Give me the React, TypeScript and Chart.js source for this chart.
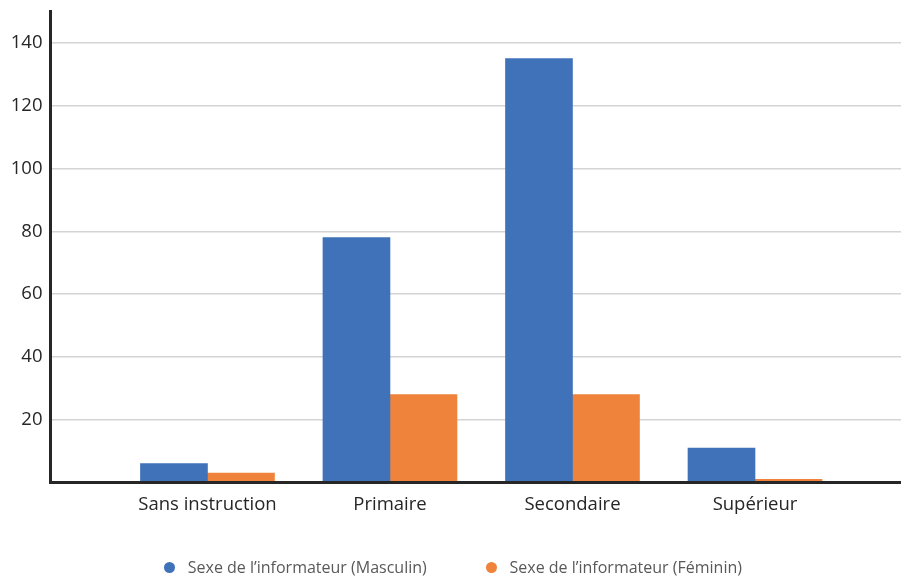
import { useEffect, useRef } from 'react';
import { Chart, registerables } from 'chart.js';

Chart.register(...registerables);

// Niveau d'instruction par sexe de l'informateur
const categories = ['Sans instruction', 'Primaire', 'Secondaire', 'Supérieur'];
const masculin = [6, 78, 135, 11];
const feminin = [3, 28, 28, 1];
const seriesLabels = ['Sexe de l’informateur (Masculin)', 'Sexe de l’informateur (Féminin)'];
const seriesColors = ['#4072b9', '#f0833b'];
const yTicks = [20, 40, 60, 80, 100, 120, 140];

const FONT = 'Open Sans';

export default function App() {
  const ref = useRef<HTMLCanvasElement>(null);

  useEffect(() => {
    const canvas = ref.current;
    if (!canvas) return;
    const toPoints = (vals: number[]) => vals.map((y, i) => ({ x: i + 1, y }));

    const chart = new Chart(canvas, {
      type: 'bar',
      data: {
        datasets: [
          {
            label: seriesLabels[0],
            data: toPoints(masculin),
            backgroundColor: seriesColors[0],
            barThickness: 67,
          },
          {
            label: seriesLabels[1],
            data: toPoints(feminin),
            backgroundColor: seriesColors[1],
            barThickness: 67,
          },
        ],
      },
      options: {
        animation: false,
        responsive: false,
        layout: { padding: { top: 11.6, left: 0, right: 0, bottom: 56 } },
        plugins: {
          tooltip: { enabled: false },
          legend: { display: false },
        },
        scales: {
          x: {
            type: 'linear',
            min: 0.14,
            max: 4.8,
            offset: false,
            grid: { display: false },
            border: { color: '#262626', width: 3, z: 1 },
            ticks: {
              stepSize: 1,
              includeBounds: false,
              color: '#262626',
              padding: 3,
              font: { family: FONT, size: 18.5 },
              callback: (v: any) => categories[Number(v) - 1] ?? '',
            },
            afterBuildTicks: (s: any) => {
              s.ticks = categories.map((_, i) => ({ value: i + 1 }));
            },
            afterFit: (s: any) => {
              s.height = 37.5;
            },
          },
          y: {
            min: 0,
            max: 150,
            grid: { color: '#d4d4d4', lineWidth: 1.5, drawTicks: false },
            border: { color: '#262626', width: 3, z: 1 },
            ticks: {
              color: '#262626',
              padding: 8,
              font: { family: FONT, size: 18.5 },
            },
            afterBuildTicks: (s: any) => {
              s.ticks = yTicks.map((value) => ({ value }));
            },
            afterFit: (s: any) => {
              s.width = 50.5;
              s.paddingTop = 0;
              s.paddingBottom = 0;
            },
          },
        },
      },
    });

    return () => chart.destroy();
  }, []);

  return (
    <div style={{ position: 'absolute', left: 0, top: 0, width: 901, height: 576, background: '#ffffff' }}>
      <canvas ref={ref} width={901} height={576} style={{ display: 'block' }} />
      <div
        style={{
          position: 'absolute',
          left: 0,
          top: 557,
          width: 901,
          paddingLeft: 5,
          boxSizing: 'border-box',
          display: 'flex',
          justifyContent: 'center',
          alignItems: 'center',
          gap: 59,
          fontFamily: FONT,
          fontSize: 16,
          lineHeight: '20px',
          color: '#595959',
          whiteSpace: 'nowrap',
        }}
      >
        {seriesLabels.map((label, i) => (
          <div key={label} style={{ display: 'flex', alignItems: 'center' }}>
            <span
              style={{
                display: 'inline-block',
                width: 11,
                height: 11,
                borderRadius: '50%',
                background: seriesColors[i],
                marginRight: 12.8,
              }}
            />
            <span>{label}</span>
          </div>
        ))}
      </div>
    </div>
  );
}
